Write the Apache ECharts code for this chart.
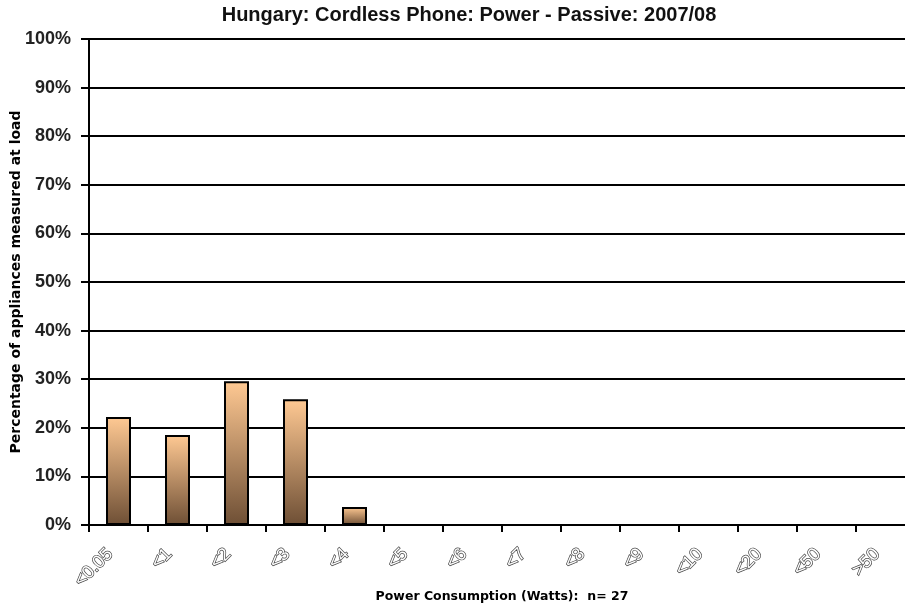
<!DOCTYPE html>
<html>
<head>
<meta charset="utf-8">
<script src="https://cdn.jsdelivr.net/npm/echarts@6/dist/echarts.min.js"></script>
<style>
  html, body { margin: 0; padding: 0; background: #fff; }
  #myChart { width: 905px; height: 608px; }
</style>
</head>
<body>
<div id="myChart"></div>
<script>
// categories (watts) and share of appliances in each bin, n = 27
const categories = ['<0.05', '<1', '<2', '<3', '<4', '<5', '<6', '<7', '<8', '<9', '<10', '<20', '<50', '>50'];
const shares = [22.2, 18.5, 29.6, 25.9, 3.7, 0, 0, 0, 0, 0, 0, 0, 0, 0];
const yTicks = [0, 10, 20, 30, 40, 50, 60, 70, 80, 90, 100];

const chart = echarts.init(document.getElementById('myChart'));

// empty bins are drawn with no outline
let barData = shares.map(function (v) {
  return v > 0 ? v : { value: v, itemStyle: { borderWidth: 0 } };
});

const options = {
  animation: false,
  backgroundColor: '#fff',
  graphic: [
    {
      type: 'text',
      x: 469,
      y: 5,
      style: {
        text: 'Hungary: Cordless Phone: Power - Passive: 2007/08',
        textAlign: 'center',
        fontFamily: '"Liberation Sans", Arial',
        fontSize: 20,
        fontWeight: 'bold',
        fill: '#111'
      }
    }
  ],
  grid: {
    left: 89,
    right: -10,
    top: 39,
    bottom: 83,
    containLabel: false,
    outerBoundsMode: 'none'
  },
  xAxis: {
    type: 'category',
    data: categories,
    boundaryGap: true,
    name: 'Power Consumption (Watts):  n= 27',
    nameLocation: 'middle',
    nameGap: 65,
    nameMoveOverlap: false,
    nameTextStyle: {
      fontFamily: '"DejaVu Sans", Verdana',
      fontSize: 12.5,
      fontWeight: 'bold',
      color: '#000'
    },
    axisLine: { lineStyle: { color: '#000', width: 2 } },
    axisTick: { show: true, alignWithLabel: false, length: 7, lineStyle: { color: '#000', width: 2 } },
    axisLabel: {
      rotate: 45,
      margin: 18,
      padding: [0, 12, 0, 0],
      fontFamily: '"Liberation Sans", Arial',
      fontSize: 18,
      color: '#fff',
      textBorderColor: '#444',
      textBorderWidth: 1.4
    }
  },
  yAxis: {
    type: 'value',
    min: 0,
    max: 100,
    interval: 10,
    name: 'Percentage of appliances measured at load',
    nameLocation: 'middle',
    nameGap: 66,
    nameMoveOverlap: false,
    nameRotate: 90,
    nameTextStyle: {
      fontFamily: '"DejaVu Sans", Verdana',
      fontSize: 14,
      fontWeight: 'bold',
      color: '#000'
    },
    axisLine: { show: true, lineStyle: { color: '#000', width: 2 } },
    axisTick: { show: true, length: 8, lineStyle: { color: '#000', width: 2 } },
    axisLabel: {
      margin: 18,
      fontFamily: '"Liberation Sans", Arial',
      fontSize: 18,
      fontWeight: 'bold',
      color: '#222',
      formatter: function (v) { return yTicks.indexOf(v) >= 0 ? v + '%' : ''; }
    },
    splitLine: { show: true, lineStyle: { color: '#000', width: 2 } }
  },
  series: [
    {
      name: 'share',
      type: 'bar',
      data: barData,
      barWidth: 25,
      itemStyle: {
        borderColor: '#000',
        borderWidth: 2,
        color: new echarts.graphic.LinearGradient(0, 0, 0, 1, [
          { offset: 0, color: '#ffc993' },
          { offset: 1, color: '#6e4f35' }
        ])
      }
    }
  ]
};

chart.setOption(options);
</script>
</body>
</html>
